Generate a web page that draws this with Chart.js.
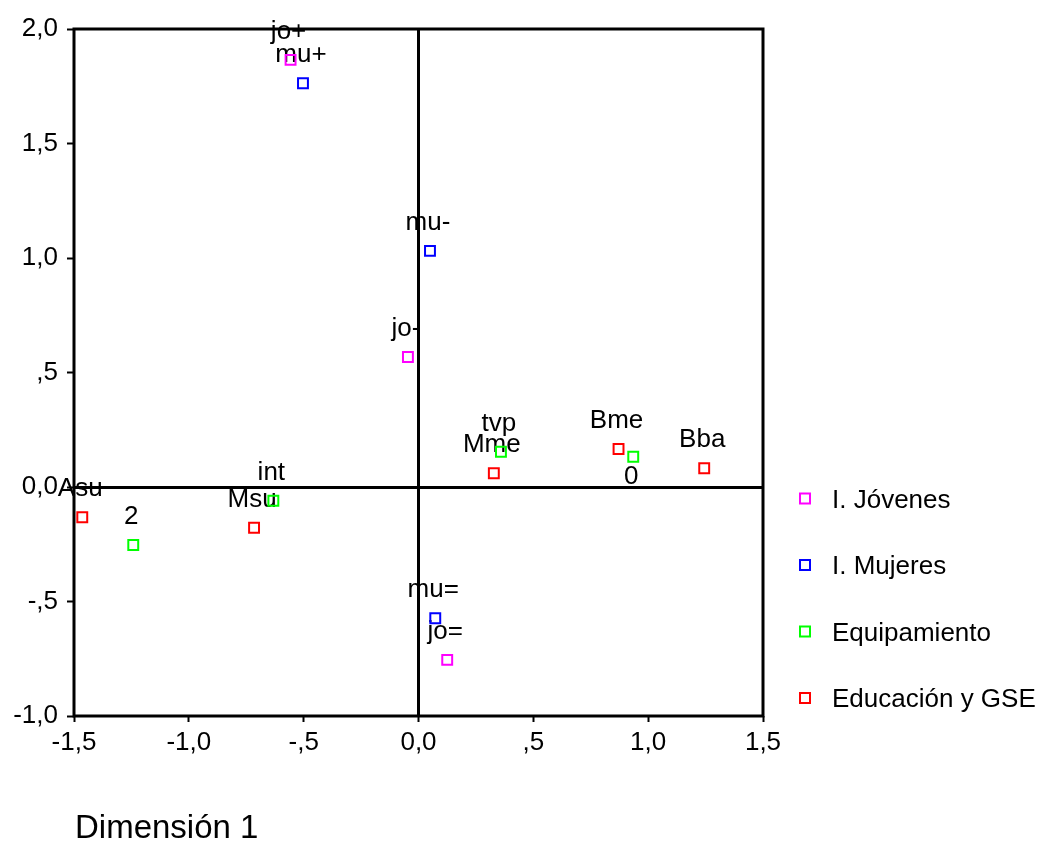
<!DOCTYPE html>
<html>
<head>
<meta charset="utf-8">
<script src="https://cdn.jsdelivr.net/npm/chart.js@4"></script>
<style>
  html, body { margin: 0; padding: 0; background: #fff; }
  #wrap { width: 1043px; height: 841px; }
</style>
</head>
<body>
<div id="wrap"><canvas id="chart" width="1043" height="841"></canvas></div>
<script>
// Valores (Dimensión 1 = x, Dimensión 2 = y)
const jovenesX = [-0.557, -0.046, 0.125];
const jovenesY = [1.865, 0.568, -0.755];
const jovenesLabels = ['jo+', 'jo-', 'jo='];

const mujeresX = [-0.503, 0.050, 0.073];
const mujeresY = [1.763, 1.031, -0.573];
const mujeresLabels = ['mu+', 'mu-', 'mu='];

const equipX = [0.359, 0.935, -0.632, -1.242];
const equipY = [0.154, 0.132, -0.060, -0.253];
const equipLabels = ['tvp', '0', 'int', '2'];

const eduX = [0.328, 0.871, 1.244, -1.464, -0.716];
const eduY = [0.060, 0.166, 0.082, -0.132, -0.178];
const eduLabels = ['Mme', 'Bme', 'Bba', 'Asu', 'Msu'];

const seriesNames = ['I. Jóvenes', 'I. Mujeres', 'Equipamiento', 'Educación y GSE'];
const seriesColors = ['#ff00ff', '#0000ff', '#00ff00', '#ff0000'];

const xTickValues = [-1.5, -1.0, -0.5, 0, 0.5, 1.0, 1.5];
const xTickLabels = ['-1,5', '-1,0', '-,5', '0,0', ',5', '1,0', '1,5'];
const yTickValues = [-1.0, -0.5, 0, 0.5, 1.0, 1.5, 2.0];
const yTickLabels = ['-1,0', '-,5', '0,0', ',5', '1,0', '1,5', '2,0'];

const xTitle = 'Dimensión 1';
const fuente = '"Liberation Sans", Arial, sans-serif';

const puntos = (xs, ys, labels) => xs.map((x, i) => ({x: x, y: ys[i], label: labels[i]}));

const series = [
    puntos(jovenesX, jovenesY, jovenesLabels),
    puntos(mujeresX, mujeresY, mujeresLabels),
    puntos(equipX, equipY, equipLabels),
    puntos(eduX, eduY, eduLabels)
];

const tickLabel = (values, labels) => (v) => {
    const i = values.findIndex(t => Math.abs(t - v) < 1e-6);
    return i > -1 ? labels[i] : '';
};

// Etiquetas de puntos, marco, título y leyenda
const extras = {
    id: 'extras',
    beforeDatasetsDraw(chart) {
        const ctx = chart.ctx;
        ctx.save();
        ctx.font = '26px ' + fuente;
        ctx.fillStyle = '#000';
        ctx.textAlign = 'center';
        ctx.textBaseline = 'alphabetic';
        chart.data.datasets.forEach((ds, di) => {
            const meta = chart.getDatasetMeta(di);
            meta.data.forEach((el, i) => {
                const txt = ds.data[i].label;
                if (txt === '0') ctx.fillText(txt, el.x - 2, el.y + 27);
                else ctx.fillText(txt, el.x - 2, el.y - 21);
            });
        });
        ctx.restore();
    },
    afterDraw(chart) {
        const ctx = chart.ctx;
        const a = chart.chartArea;
        ctx.save();
        ctx.strokeStyle = '#000';
        ctx.lineWidth = 3;
        ctx.strokeRect(a.left, a.top, a.right - a.left, a.bottom - a.top);

        ctx.fillStyle = '#000';
        ctx.font = '33px ' + fuente;
        ctx.textAlign = 'left';
        ctx.textBaseline = 'alphabetic';
        ctx.fillText(xTitle, a.left + 1, 838);

        ctx.font = '26px ' + fuente;
        ctx.textBaseline = 'middle';
        seriesNames.forEach((n, i) => {
            const y = 498.5 + i * 66.5;
            ctx.strokeStyle = seriesColors[i];
            ctx.lineWidth = 2;
            ctx.strokeRect(800, y - 5, 10, 10);
            ctx.fillText(n, 832, y + 2);
        });
        ctx.restore();
    }
};

new Chart('chart', {
    type: 'scatter',
    data: {
        datasets: series.map((d, i) => ({
            label: seriesNames[i],
            data: d,
            pointStyle: 'rect',
            pointRadius: 7,
            pointHoverRadius: 7,
            borderWidth: 2,
            borderColor: seriesColors[i],
            backgroundColor: 'transparent'
        }))
    },
    options: {
        responsive: false,
        animation: false,
        events: [],
        layout: {padding: {left: 0, top: 29, right: 280, bottom: 0}},
        plugins: {legend: {display: false}, tooltip: {enabled: false}},
        scales: {
            x: {
                type: 'linear', min: -1.5, max: 1.5,
                afterBuildTicks: s => { s.ticks = xTickValues.map(v => ({value: v})); },
                afterFit: s => { s.height = 125; },
                ticks: {
                    callback: tickLabel(xTickValues, xTickLabels),
                    color: '#000', font: {family: fuente, size: 26}, padding: 5,
                    maxRotation: 0, autoSkip: false
                },
                grid: {
                    color: c => c.tick && c.tick.value === 0 ? '#000' : 'transparent',
                    lineWidth: 3, tickColor: '#000', tickWidth: 2, tickLength: 6
                },
                border: {display: false}
            },
            y: {
                type: 'linear', min: -1.0, max: 2.0,
                afterBuildTicks: s => { s.ticks = yTickValues.map(v => ({value: v})); },
                afterFit: s => { s.width = 74; },
                ticks: {
                    callback: tickLabel(yTickValues, yTickLabels),
                    color: '#000', font: {family: fuente, size: 26}, padding: 9,
                    autoSkip: false
                },
                grid: {
                    color: c => c.tick && c.tick.value === 0 ? '#000' : 'transparent',
                    lineWidth: 3, tickColor: '#000', tickWidth: 2, tickLength: 7
                },
                border: {display: false}
            }
        }
    },
    plugins: [extras]
});
</script>
</body>
</html>
